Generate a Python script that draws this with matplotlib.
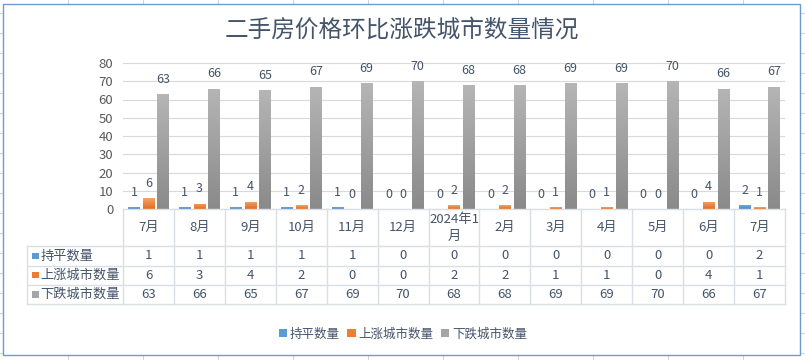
import numpy as np
import matplotlib.pyplot as plt
from matplotlib.patches import Rectangle
from matplotlib.colors import LinearSegmentedColormap

plt.rcParams['font.family'] = ['Noto Sans CJK SC', 'DejaVu Sans']

months = ["7月", "8月", "9月", "10月", "11月", "12月", "2024年1\n月",
          "2月", "3月", "4月", "5月", "6月", "7月"]
flat = [1, 1, 1, 1, 1, 0, 0, 0, 0, 0, 0, 0, 2]
up = [6, 3, 4, 2, 0, 0, 2, 2, 1, 1, 0, 4, 1]
down = [63, 66, 65, 67, 69, 70, 68, 68, 69, 69, 70, 66, 67]
series_names = ["持平数量", "上涨城市数量", "下跌城市数量"]

W, H = 805, 360
txt = '#44546a'
grid_c = '#d9d9d9'
colors = ['#5b9bd5', '#ed7d31', '#a5a5a5']
grads = [('#6aa8e0', '#4a88c4'), ('#f5a26a', '#e56b1c'), ('#b5b5b5', '#8a8a8a')]

fig = plt.figure(figsize=(W / 100, H / 100), dpi=100)

# spreadsheet background
bg = fig.add_axes([0, 0, 1, 1], zorder=-5)
bg.set_xlim(0, W)
bg.set_ylim(H, 0)
bg.axis('off')
for x in np.arange(68, W, 75):
    bg.axvline(x, color='#d4d4d4', lw=0.8)
for y in np.arange(13, H, 20):
    bg.axhline(y, color='#d4d4d4', lw=0.8)
bg.add_patch(Rectangle((3, 4), 797, 351, facecolor='white',
                       edgecolor='#6f9bd1', lw=1.0, zorder=3))

def fx(px):
    return px / W

def fy(py):
    return 1 - py / H

x0, x1 = 123, 785
ytop, ybot = 63, 209
ax = fig.add_axes([fx(x0), fy(ybot), fx(x1) - fx(x0), (ybot - ytop) / H])
ax.set_facecolor('none')
n = len(months)
x = np.arange(n)
ax.set_xlim(-0.5, n - 0.5)
ax.set_ylim(0, 80)
ax.set_yticks(range(0, 81, 10))
ax.grid(axis='y', color=grid_c, lw=0.8)
ax.set_axisbelow(True)
for s in ax.spines.values():
    s.set_visible(False)
ax.set_xticks([])
ax.tick_params(axis='y', length=0, labelsize=9.5, labelcolor='#595959', pad=7)

bw = 0.22
offs = [-0.285, 0, 0.285]
containers = []
for vals, off, c, (gt, gb) in zip([flat, up, down], offs, colors, grads):
    bars = ax.bar(x + off, vals, width=bw, color=c, zorder=2)
    containers.append(bars)
    cmap = LinearSegmentedColormap.from_list('g', [gb, gt])
    for b, v in zip(bars, vals):
        if v <= 0:
            continue
        im = ax.imshow(np.linspace(0, 1, 64).reshape(-1, 1), cmap=cmap,
                       origin='lower', aspect='auto', zorder=2.5,
                       extent=[b.get_x(), b.get_x() + bw, 0, v])
        im.set_clip_path(b)
    for xi, v in zip(x + off, vals):
        ax.annotate(str(v), (xi, v), xytext=(0, 6), textcoords='offset points',
                    ha='center', va='bottom', fontsize=9, color=txt)
ax.set_xlim(-0.5, n - 0.5)
ax.set_ylim(0, 80)

# data table
tb_top, tb_bot = 209, 304
tab = fig.add_axes([fx(x0), fy(tb_bot), fx(x1) - fx(x0), (tb_bot - tb_top) / H])
tab.set_xlim(-0.5, n - 0.5)
tab.set_ylim(tb_bot - tb_top, 0)
tab.axis('off')
rows = [0, 37, 56.5, 76, 95]
lab_left = -0.5 - (x0 - 27) / ((x1 - x0) / n)
lc = '#dadee5'
tab.plot([-0.5, n - 0.5], [rows[0]] * 2, color=lc, lw=1, clip_on=False)
for r in rows[1:]:
    tab.plot([lab_left, n - 0.5], [r, r], color=lc, lw=1, clip_on=False)
for k in range(n + 1):
    tab.plot([k - 0.5, k - 0.5], [rows[0], rows[-1]], color=lc, lw=1, clip_on=False)
tab.plot([lab_left, lab_left], [rows[1], rows[-1]], color=lc, lw=1, clip_on=False)

for k, m in enumerate(months):
    tab.text(k, (rows[0] + rows[1]) / 2, m, ha='center', va='center',
             fontsize=9.5, color=txt, linespacing=1.4)
for i, (name, vals, c) in enumerate(zip(series_names, [flat, up, down], colors)):
    yc = (rows[i + 1] + rows[i + 2]) / 2
    tab.add_patch(Rectangle((lab_left + 0.1, yc - 3.2), 0.13, 6.4,
                            facecolor=c, edgecolor='none', clip_on=False))
    tab.text(lab_left + 0.27, yc, name, ha='left', va='center',
             fontsize=9.5, color=txt, clip_on=False)
    for k, v in enumerate(vals):
        tab.text(k, yc, str(v), ha='center', va='center', fontsize=9.5, color=txt)

fig.text(fx(402), fy(30), "二手房价格环比涨跌城市数量情况", ha='center', va='center',
         fontsize=17, color=txt)

fig.legend(containers, series_names, loc='center', bbox_to_anchor=(fx(403), fy(334)),
           ncol=3, frameon=False, fontsize=9, labelcolor=txt, handlelength=0.65,
           handleheight=0.65, handletextpad=0.25, columnspacing=0.6)

fig.savefig("out.png", dpi=100)
